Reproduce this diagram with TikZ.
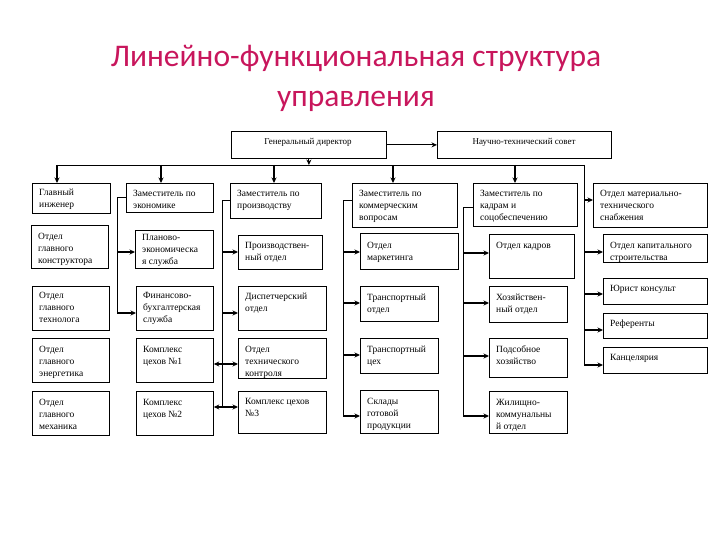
\documentclass[tikz,border=0pt]{standalone}
\usepackage{fontspec}
\setmainfont{Liberation Serif}
\newfontfamily\titlefont{Carlito}
\usetikzlibrary{arrows.meta}
\definecolor{titlecol}{RGB}{200,22,92}
\tikzset{
  box/.style={draw, line width=0.8pt, inner sep=0pt, anchor=north west},
  txt/.style={inner sep=0pt, anchor=north west, align=left, font=\fontsize{9.5}{12}\selectfont},
  ctxt/.style={inner sep=0pt, anchor=base, font=\fontsize{9}{12}\selectfont},
  ttl/.style={inner sep=0pt, anchor=base, text=titlecol, font=\titlefont\fontsize{31.5}{40}\selectfont},
  ln/.style={line width=0.9pt},
  arr/.style={line width=1.1pt, -{Stealth[length=5.5pt,width=5pt]}},
  darr/.style={line width=1.4pt, {Stealth[length=5.5pt,width=5pt]}-{Stealth[length=5.5pt,width=5pt]}},
}
% \bx[baseline offset]{name}{left}{top}{right}{bottom}{text}
\newcommand\bx[7][13]{%
  \node[box, minimum width=#5pt-#3pt, minimum height=#6pt-#4pt] (#2) at (#3,#4) {};
  \node[txt] (#2-t) at (#3+7,#4+#1-7) {\rule{0pt}{7pt}#7};
}
\begin{document}
\begin{tikzpicture}[x=1pt,y=-1pt]
\useasboundingbox (0,0) rectangle (720,540);
% title
\node[ttl] (title1) at (356,67) {Линейно-функциональная структура};
\node[ttl] (title2) at (356,107) {управления};
% top
\node[box, minimum width=155pt, minimum height=27pt] (gd) at (231,131) {};
\node[ctxt] (gd-t) at (308,145) {Генеральный директор};
\node[box, minimum width=174pt, minimum height=27pt] (nts) at (437,131) {};
\node[ctxt] (nts-t) at (524,145) {Научно-технический совет};
% row 1
\bx[12]{gi}{32}{183}{110}{213}{Главный\\инженер}
\bx{ze}{126}{183}{213}{212}{Заместитель по\\экономике}
\bx{zpr}{230}{183}{321}{218}{Заместитель по\\производству}
\bx{zk}{352}{183}{457}{227}{Заместитель по\\коммерческим\\вопросам}
\bx{zkd}{473}{183}{577}{226}{Заместитель по\\кадрам и\\соцобеспечению}
\bx{mts}{593}{183}{707}{227}{Отдел материально-\\технического\\снабжения}
% row 2
\bx[14]{okon}{31}{225}{108}{268}{Отдел\\главного\\конструктора}
\bx[10]{pe}{135}{230}{213}{268}{Планово-\\экономическа\\я служба}
\bx{prod}{238}{235}{322}{269}{Производствен-\\ный отдел}
\bx[15]{mark}{360}{233}{458}{269}{Отдел\\маркетинга}
\bx[14]{okad}{489}{234}{574}{278}{Отдел кадров}
\bx[14]{ks}{603}{234}{707}{262}{Отдел капитального\\строительства}
% row 3
\bx[12]{otech}{32}{286}{109}{330}{Отдел\\главного\\технолога}
\bx[12]{fb}{136}{286}{213}{330}{Финансово-\\бухгалтерская\\служба}
\bx[13]{disp}{238}{286}{326}{330}{Диспетчерский\\отдел}
\bx[14]{to}{360}{286}{438}{321}{Транспортный\\отдел}
\bx[14]{hoz}{489}{286}{567}{322}{Хозяйствен-\\ный отдел}
\bx{yur}{603}{278}{707}{304}{Юрист консульт}
\bx{ref}{603}{313}{707}{338}{Референты}
\bx{kanc}{603}{347}{707}{373}{Канцелярия}
% row 4
\bx[14]{oen}{32}{338}{109}{382}{Отдел\\главного\\энергетика}
\bx[14]{k1}{136}{338}{213}{382}{Комплекс\\цехов №1}
\bx[14]{otk}{238}{338}{326}{378}{Отдел\\технического\\контроля}
\bx[14]{tc}{360}{338}{438}{373}{Транспортный\\цех}
\bx[14]{pod}{489}{338}{567}{377}{Подсобное\\хозяйство}
% row 5
\bx[14]{omeh}{32}{391}{109}{435}{Отдел\\главного\\механика}
\bx[14]{k2}{136}{391}{213}{435}{Комплекс\\цехов №2}
\bx[13]{k3}{238}{391}{326}{433}{Комплекс цехов\\№3}
\bx[14]{sk}{360}{390}{438}{433}{Склады\\готовой\\продукции}
\bx[14]{zhk}{489}{391}{567}{433}{Жилищно-\\коммунальны\\й отдел}
% connectors: top
\draw[arr] (gd.east) -- (nts.west);
\coordinate (busL) at (57,165);
\coordinate (busR) at (584,165);
\draw[ln] (busL) -- (busR);
\draw[arr] (gd.south) -- (gd.south |- busL);
\coordinate (d1) at (57,165);
\coordinate (d2) at (161,165);
\coordinate (d3) at (274,165);
\coordinate (d4) at (393,165);
\coordinate (d5) at (515,165);
\draw[arr] (d1) -- (d1 |- gi.north);
\draw[arr] (d2) -- (d2 |- ze.north);
\draw[arr] (d3) -- (d3 |- zpr.north);
\draw[arr] (d4) -- (d4 |- zk.north);
\draw[arr] (d5) -- (d5 |- zkd.north);
% column 2
\coordinate (c2a) at (117,252);
\coordinate (c2b) at (117,313);
\draw[ln] (ze.west) -| (c2b);
\draw[arr] (c2a) -- (c2a -| pe.west);
\draw[arr] (c2b) -- (c2b -| fb.west);
% column 3
\coordinate (c3a) at (222,252);
\coordinate (c3b) at (222,313);
\coordinate (c3c) at (222,364);
\coordinate (c3d) at (222,407);
\draw[ln] (zpr.west) -| (c3d);
\draw[arr] (c3a) -- (c3a -| prod.west);
\draw[arr] (c3b) -- (c3b -| disp.west);
\draw[darr] (c3c -| k1.east) -- (c3c -| otk.west);
\draw[darr] (c3d -| k2.east) -- (c3d -| k3.west);
% column 4
\coordinate (c4a) at (343,252);
\coordinate (c4b) at (343,303);
\coordinate (c4c) at (343,355);
\coordinate (c4d) at (343,416);
\draw[ln] ([yshift=5pt]zk.west) -| (c4d);
\draw[arr] (c4a) -- (c4a -| mark.west);
\draw[arr] (c4b) -- (c4b -| to.west);
\draw[arr] (c4c) -- (c4c -| tc.west);
\draw[arr] (c4d) -- (c4d -| sk.west);
% column 5
\coordinate (c5a) at (463,253);
\coordinate (c5b) at (463,303);
\coordinate (c5c) at (463,356);
\coordinate (c5d) at (463,416);
\draw[ln] ([yshift=-2.5pt]zkd.west) -| (c5d);
\draw[arr] (c5a) -- (c5a -| okad.west);
\draw[arr] (c5b) -- (c5b -| hoz.west);
\draw[arr] (c5c) -- (c5c -| pod.west);
\draw[arr] (c5d) -- (c5d -| zhk.west);
% column 6
\coordinate (c6a) at (584,200);
\coordinate (c6b) at (584,252);
\coordinate (c6c) at (584,294);
\coordinate (c6d) at (584,330);
\coordinate (c6e) at (584,365);
\draw[ln] (busR) -- (c6e);
\draw[arr] (c6a) -- (c6a -| mts.west);
\draw[arr] (c6b) -- (c6b -| ks.west);
\draw[arr] (c6c) -- (c6c -| yur.west);
\draw[arr] (c6d) -- (c6d -| ref.west);
\draw[arr] (c6e) -- (c6e -| kanc.west);
\end{tikzpicture}
\end{document}
